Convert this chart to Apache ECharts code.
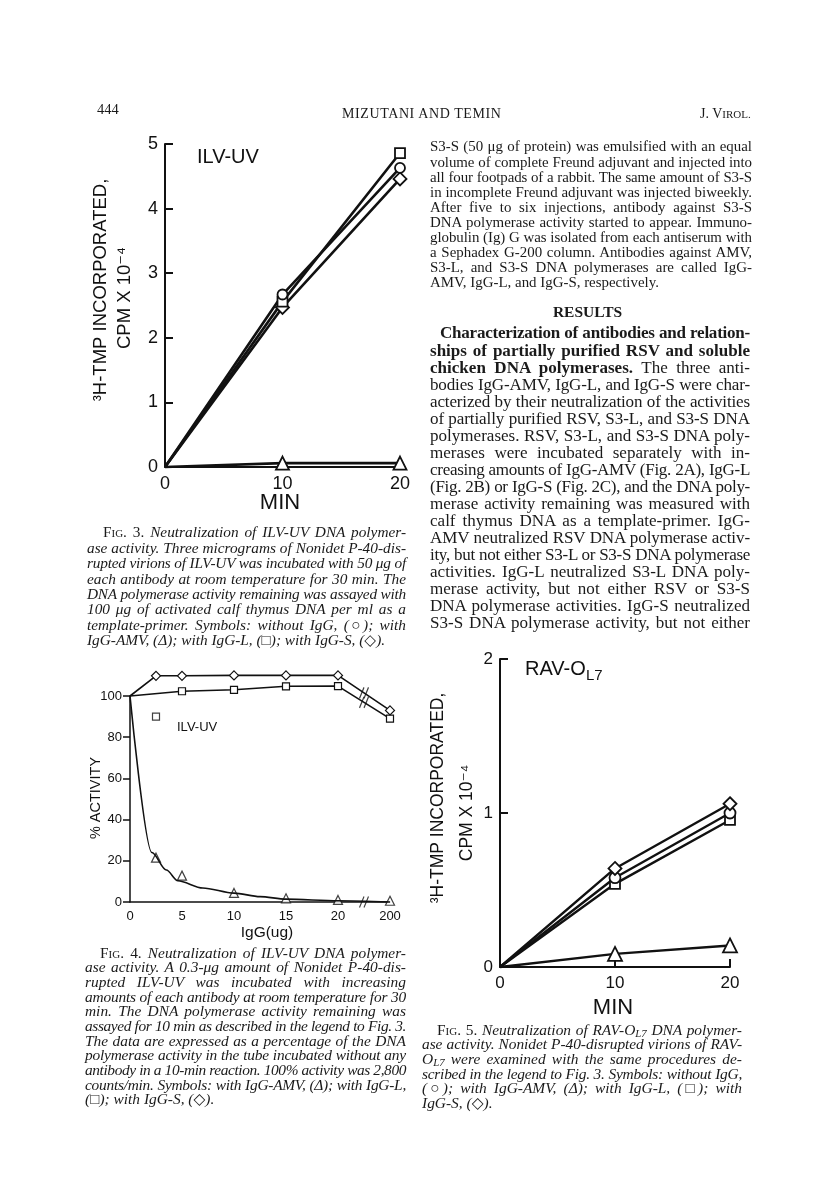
<!DOCTYPE html>
<html>
<head>
<meta charset="utf-8">
<script src="https://cdn.jsdelivr.net/npm/echarts@6/dist/echarts.min.js"></script>
<style>
html,body{margin:0;padding:0;background:#fff;}
#page{position:relative;width:816px;height:1204px;overflow:hidden;background:#fff;}
#chart{position:absolute;left:0;top:0;width:816px;height:1204px;}
.ln{position:absolute;text-align:justify;text-align-last:justify;color:#1a1a1a;
    font-family:"Liberation Serif","DejaVu Serif",serif;z-index:2;}
.ln.last{text-align-last:left;}
.cap{font-style:italic;}
.sc{font-style:normal;font-variant:small-caps;}
sub{font-size:70%;vertical-align:-2px;line-height:0;}
</style>
</head>
<body>
<div id="page">
  <div id="chart"></div>
</div>
<script>
// ---- data ----
// Fig. 3  ILV-UV, 3H-TMP incorporated (CPM x 10^-4) vs minutes
const minutes = [0, 10, 20];
const ilvNoIgG = [0, 2.67, 4.63];
const ilvAmv = [0, 0.06, 0.06];
const ilvIgGL = [0, 2.56, 4.86];
const ilvIgGS = [0, 2.47, 4.46];

// Fig. 4  % activity vs IgG (ug), 200 ug sits behind the axis break
const doseTicks = [0, 5, 10, 15, 20, 200];
const doseS = [0, 2.5, 5, 10, 15, 20, 200];
const actS = [100, 109.8, 109.8, 110, 110, 110, 93];
const doseL = [0, 5, 10, 15, 20, 200];
const actL = [100, 102.3, 103, 104.7, 104.8, 89];
const doseLOdd = [2.5];
const actLOdd = [90];
const doseAmv = [2.5, 5, 10, 15, 20, 200];
const actAmv = [21.5, 12.8, 4.4, 1.8, 1.0, 0.6];
const doseFit = [0, 2.1, 3.5, 4.6, 7, 10, 12.5, 15, 20, 200];
const actFit = [100, 24, 15.5, 10.3, 6.8, 4.3, 2.6, 1.4, 0.6, 0];

// Fig. 5  RAV-OL7
const ravNoIgG = [0, 0.58, 1.0];
const ravAmv = [0, 0.085, 0.14];
const ravIgGL = [0, 0.54, 0.955];
const ravIgGS = [0, 0.64, 1.06];

const SANS = '"Liberation Sans", Arial, "DejaVu Sans", sans-serif';
const INK = '#111';

// broken x axis of fig 4: everything past 20 ug goes to slot 25
const dosePos = d => d > 20 ? 25 : d;
const breakPos = 22.5;

// ---- page text ----
// each block: lines placed one by one, font size scaled so the lines fill the column
function placeLines(lines, o) {
  const page = document.getElementById('page');
  const divs = [];
  lines.forEach((html, i) => {
    const d = document.createElement('div');
    const isLast = i === lines.length - 1 && o.lastLeft;
    d.className = 'ln ' + (o.cls || '') + (isLast ? ' last' : '');
    const ind = i === 0 ? (o.indent || 0) : 0;
    d.style.left = (o.left + ind) + 'px';
    d.style.top = (o.top + i * o.step - o.step / 2) + 'px';
    d.style.lineHeight = o.step + 'px';
    d.style.fontSize = o.size + 'px';
    if (o.weight) d.style.fontWeight = o.weight;
    d.innerHTML = html;
    page.appendChild(d);
    // natural width, unwrapped
    d.style.whiteSpace = 'nowrap';
    const nat = d.getBoundingClientRect().width;
    d.style.whiteSpace = '';
    divs.push({d: d, w: o.right - o.left - ind, nat: nat, last: isLast});
  });
  let size = o.size;
  if (o.fit !== false) {
    const r = divs.filter(x => !x.last).map(x => x.w / x.nat).sort((a, b) => a - b);
    if (r.length) size = o.size * r[Math.floor(r.length / 2)] * 0.985;
  }
  divs.forEach(x => {
    x.d.style.fontSize = size + 'px';
    x.d.style.width = x.w + 'px';
    let ls = 0;
    while (x.d.offsetHeight > o.step * 1.5 && ls > -1.2) {
      ls -= 0.05;
      x.d.style.letterSpacing = ls + 'px';
    }
  });
}

placeLines(['444'], {left: 97, right: 140, top: 109, step: 16, size: 14.5, lastLeft: true, fit: false});
placeLines(['<span style="letter-spacing:0.6px">MIZUTANI AND TEMIN</span>'],
  {left: 342, right: 505, top: 114, step: 16, size: 14, lastLeft: true, fit: false});
placeLines(['J. V<span style="font-size:11px">IROL.</span>'],
  {left: 700, right: 760, top: 114, step: 16, size: 14, lastLeft: true, fit: false});

placeLines([
  'S3-S (50 μg of protein) was emulsified with an equal',
  'volume of complete Freund adjuvant and injected into',
  'all four footpads of a rabbit. The same amount of S3-S',
  'in incomplete Freund adjuvant was injected biweekly.',
  'After five to six injections, antibody against S3-S',
  'DNA polymerase activity started to appear. Immuno-',
  'globulin (Ig) G was isolated from each antiserum with',
  'a Sephadex G-200 column. Antibodies against AMV,',
  'S3-L, and S3-S DNA polymerases are called IgG-',
  'AMV, IgG-L, and IgG-S, respectively.'
], {left: 430, right: 752, top: 147, step: 15.1, size: 14, lastLeft: true});

placeLines(['<div style="text-align:center;text-align-last:center;font-weight:bold">RESULTS</div>'],
  {left: 430, right: 745, top: 311, step: 17, size: 15.5, fit: false});

placeLines([
  '<b>Characterization of antibodies and relation-</b>',
  '<b>ships of partially purified RSV and soluble</b>',
  '<b>chicken DNA polymerases.</b> The three anti-',
  'bodies IgG-AMV, IgG-L, and IgG-S were char-',
  'acterized by their neutralization of the activities',
  'of partially purified RSV, S3-L, and S3-S DNA',
  'polymerases. RSV, S3-L, and S3-S DNA poly-',
  'merases were incubated separately with in-',
  'creasing amounts of IgG-AMV (Fig. 2A), IgG-L',
  '(Fig. 2B) or IgG-S (Fig. 2C), and the DNA poly-',
  'merase activity remaining was measured with',
  'calf thymus DNA as a template-primer. IgG-',
  'AMV neutralized RSV DNA polymerase activ-',
  'ity, but not either S3-L or S3-S DNA polymerase',
  'activities. IgG-L neutralized S3-L DNA poly-',
  'merase activity, but not either RSV or S3-S',
  'DNA polymerase activities. IgG-S neutralized',
  'S3-S DNA polymerase activity, but not either'
], {left: 430, right: 750, top: 333, step: 17.05, size: 15.5, indent: 10});

placeLines([
  '<span class="sc">Fig. 3.</span> Neutralization of ILV-UV DNA polymer-',
  'ase activity. Three micrograms of Nonidet P-40-dis-',
  'rupted virions of ILV-UV was incubated with 50 μg of',
  'each antibody at room temperature for 30 min. The',
  'DNA polymerase activity remaining was assayed with',
  '100 μg of activated calf thymus DNA per ml as a',
  'template-primer. Symbols: without IgG, (○); with',
  'IgG-AMV, (Δ); with IgG-L, (□); with IgG-S, (◇).'
], {left: 87, right: 406, top: 532, step: 15.4, size: 14, indent: 16, cls: 'cap', lastLeft: true});

placeLines([
  '<span class="sc">Fig. 4.</span> Neutralization of ILV-UV DNA polymer-',
  'ase activity. A 0.3-μg amount of Nonidet P-40-dis-',
  'rupted ILV-UV was incubated with increasing',
  'amounts of each antibody at room temperature for 30',
  'min. The DNA polymerase activity remaining was',
  'assayed for 10 min as described in the legend to Fig. 3.',
  'The data are expressed as a percentage of the DNA',
  'polymerase activity in the tube incubated without any',
  'antibody in a 10-min reaction. 100% activity was 2,800',
  'counts/min. Symbols: with IgG-AMV, (Δ); with IgG-L,',
  '(□); with IgG-S, (◇).'
], {left: 85, right: 406, top: 953, step: 14.65, size: 14, indent: 15, cls: 'cap', lastLeft: true});

placeLines([
  '<span class="sc">Fig. 5.</span> Neutralization of RAV-O<sub>L7</sub> DNA polymer-',
  'ase activity. Nonidet P-40-disrupted virions of RAV-',
  'O<sub>L7</sub> were examined with the same procedures de-',
  'scribed in the legend to Fig. 3. Symbols: without IgG,',
  '(○); with IgG-AMV, (Δ); with IgG-L, (□); with',
  'IgG-S, (◇).'
], {left: 422, right: 742, top: 1030, step: 14.6, size: 14, indent: 15, cls: 'cap', lastLeft: true});

// ---- charts ----
function axis(gi, min, max, interval, o) {
  return {
    gridIndex: gi, type: 'value', min: min, max: max, interval: interval,
    axisLine: {show: true, onZero: false, lineStyle: {color: INK, width: o.aw}},
    axisTick: {show: o.tick !== false, inside: !!o.inside, length: o.tl || 6,
               lineStyle: {color: INK, width: o.aw}},
    axisLabel: {color: INK, fontSize: o.fs, fontFamily: SANS, margin: o.margin,
                formatter: o.fmt || (v => String(v))},
    splitLine: {show: false}
  };
}

function lineOf(gi, xs, ys, symbol, size, lw, bw, extra) {
  return Object.assign({
    type: 'line', xAxisIndex: gi, yAxisIndex: gi,
    data: xs.map((x, i) => x === 0 ? {value: [x, ys[i]], symbol: 'none'} : [x, ys[i]]),
    symbol: symbol, symbolSize: size, showSymbol: true, showAllSymbol: true, clip: false,
    lineStyle: {color: INK, width: lw},
    itemStyle: {color: '#fff', borderColor: INK, borderWidth: bw},
    emphasis: {disabled: true}, silent: true, animation: false
  }, extra || {});
}

function txt(x, y, text, size, o) {
  o = o || {};
  return {
    type: 'text', x: x, y: y, rotation: o.rot || 0, silent: true,
    style: {text: text, fill: INK, fontSize: size, fontFamily: SANS,
            textAlign: o.align || 'center', textVerticalAlign: 'middle',
            align: o.align || 'center', verticalAlign: 'middle'}
  };
}

const breakSymbol = 'path://M0,12 L4,0 M4,12 L8,0';
const mid = (a, b) => (a + b) / 2;

const option = {
  backgroundColor: '#fff',
  animation: false,
  grid: [
    {left: 165, top: 144, width: 235, height: 323, containLabel: false, outerBoundsMode: 'none'},
    {left: 130, top: 696, width: 260, height: 206, containLabel: false, outerBoundsMode: 'none'},
    {left: 500, top: 659, width: 230, height: 308, containLabel: false, outerBoundsMode: 'none'}
  ],
  xAxis: [
    axis(0, 0, 20, 10, {aw: 2, inside: true, tl: 7, fs: 18, margin: 8}),
    axis(1, 0, 25, 5, {aw: 1.5, tick: false, fs: 13, margin: 8,
                       fmt: v => String(doseTicks[Math.round(v / 5)])}),
    axis(2, 0, 20, 10, {aw: 2, inside: true, tl: 8, fs: 17, margin: 8})
  ],
  yAxis: [
    axis(0, 0, 5, 1, {aw: 2, inside: true, tl: 8, fs: 18, margin: 7}),
    axis(1, 0, 100, 20, {aw: 1.5, inside: false, tl: 7, fs: 13, margin: 8}),
    axis(2, 0, 2, 1, {aw: 2, inside: true, tl: 8, fs: 17, margin: 7})
  ],
  series: [
    // Fig. 3
    lineOf(0, minutes, ilvAmv, 'triangle', 13, 2.6, 1.8),
    lineOf(0, minutes, ilvIgGS, 'diamond', 13, 2.6, 1.8),
    lineOf(0, minutes, ilvIgGL, 'rect', 10, 2.6, 1.8),
    lineOf(0, minutes, ilvNoIgG, 'circle', 10, 2.6, 1.8),

    // Fig. 4
    lineOf(1, doseFit.map(dosePos), actFit, 'none', 0, 1.6, 0, {smooth: 0.3, smoothMonotone: 'x'}),
    {type: 'scatter', xAxisIndex: 1, yAxisIndex: 1, symbol: 'triangle', symbolSize: 9,
     data: doseAmv.map((d, i) => [dosePos(d), actAmv[i]]), clip: false, silent: true,
     itemStyle: {color: '#fff', borderColor: INK, borderWidth: 1.2}},
    lineOf(1, doseL.map(dosePos), actL, 'rect', 7, 1.6, 1.2),
    lineOf(1, doseS.map(dosePos), actS, 'diamond', 9, 1.6, 1.2),
    {type: 'scatter', xAxisIndex: 1, yAxisIndex: 1, symbol: 'rect', symbolSize: 7,
     data: doseLOdd.map((d, i) => [dosePos(d), actLOdd[i]]), clip: false, silent: true,
     itemStyle: {color: '#fff', borderColor: INK, borderWidth: 1.2}},
    {type: 'scatter', xAxisIndex: 1, yAxisIndex: 1, symbol: breakSymbol, symbolSize: [9, 11],
     data: [[breakPos, 0],
            [breakPos, mid(actS[5], actS[6])],
            [breakPos, mid(actL[4], actL[5])]],
     clip: false, silent: true, z: 5,
     itemStyle: {color: 'rgba(0,0,0,0)', borderColor: INK, borderWidth: 1.3}},

    // Fig. 5
    lineOf(2, minutes, ravAmv, 'triangle', 14, 2.4, 1.8),
    lineOf(2, minutes, ravIgGL, 'rect', 10, 2.4, 1.8),
    lineOf(2, minutes, ravNoIgG, 'circle', 11, 2.4, 1.8),
    lineOf(2, minutes, ravIgGS, 'diamond', 13, 2.4, 1.8)
  ],
  graphic: [
    // Fig. 3 lettering
    txt(197, 157, 'ILV-UV', 20, {align: 'left'}),
    txt(280, 503, 'MIN', 22),
    txt(101, 290, '³H-TMP INCORPORATED,', 18.5, {rot: Math.PI / 2}),
    txt(125, 298, 'CPM X 10⁻⁴', 18.5, {rot: Math.PI / 2}),
    // Fig. 4 lettering
    txt(177, 727, 'ILV-UV', 13, {align: 'left'}),
    txt(96, 798, '% ACTIVITY', 14.5, {rot: Math.PI / 2}),
    txt(267, 933, 'IgG(ug)', 15.5),
    // Fig. 5 lettering
    txt(525, 669, 'RAV-O', 20, {align: 'left'}),
    txt(586, 676, 'L7', 15, {align: 'left'}),
    txt(613, 1008, 'MIN', 22),
    txt(438, 798, '³H-TMP INCORPORATED,', 17.5, {rot: Math.PI / 2}),
    txt(467, 813, 'CPM X 10⁻⁴', 17.5, {rot: Math.PI / 2})
  ]
};

const myChart = echarts.init(document.getElementById('chart'), null, {renderer: 'canvas'});
myChart.setOption(option);
</script>
</body>
</html>
